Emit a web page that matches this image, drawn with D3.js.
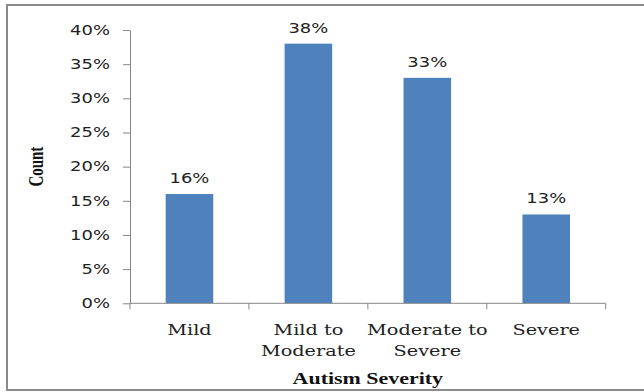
<!DOCTYPE html>
<html>
<head>
<meta charset="utf-8">
<script src="https://cdn.jsdelivr.net/npm/d3@7"></script>
<style>
  body { margin: 0; background: #fff; }
  svg { display: block; }
</style>
</head>
<body>
<svg id="chart" width="644" height="392"></svg>
<script>
// data
var categories = [["Mild"], ["Mild to", "Moderate"], ["Moderate to", "Severe"], ["Severe"]];
var shares = [0.16, 0.38, 0.33, 0.13];
var yTicks = [0, 0.05, 0.10, 0.15, 0.20, 0.25, 0.30, 0.35, 0.40];
var yTitle = "Count";
var xTitle = "Autism Severity";

var sx = 1.33; // the original is stretched sideways a bit
var sansFont = "'DejaVu Sans', Verdana, sans-serif";
var serifFont = "'DejaVu Serif', Cambria, serif";

var svg = d3.select("#chart");
// plot area (note: "top" is a reserved window global, so prefix these)
var plotLeft = 130, plotRight = 605.7, plotTop = 30, plotBottom = 303.3;

// outer frame
svg.append("rect")
  .attr("x", 7).attr("y", 5)
  .attr("width", 700).attr("height", 385)
  .attr("fill", "none")
  .attr("stroke", "#8a8a8a")
  .attr("stroke-width", 2);

var keys = categories.map(function(c) { return c.join(" "); });
var x = d3.scaleBand().domain(keys).range([plotLeft, plotRight]).paddingInner(0.6).paddingOuter(0.3);
var y = d3.scaleLinear().domain([0, 0.4]).range([plotBottom, plotTop]);

// bars
svg.append("g").selectAll("rect")
  .data(shares)
  .enter().append("rect")
  .attr("x", function(d, i) { return x(keys[i]); })
  .attr("y", function(d) { return y(d); })
  .attr("width", x.bandwidth())
  .attr("height", function(d) { return y(0) - y(d); })
  .attr("fill", "#4f81bd");

// value labels
svg.append("g").selectAll("text")
  .data(shares)
  .enter().append("text")
  .attr("transform", function(d, i) {
    return "translate(" + (x(keys[i]) + x.bandwidth() / 2) + "," + (y(d) - 11) + ") scale(" + sx + ",1)";
  })
  .attr("text-anchor", "middle")
  .style("font-family", sansFont)
  .style("font-size", "13.5px")
  .attr("fill", "#222")
  .text(function(d) { return Math.round(d * 100) + "%"; });

// y axis
var yAxis = svg.append("g")
  .attr("transform", "translate(" + plotLeft + ",0)")
  .call(d3.axisLeft(y).tickValues(yTicks).tickSize(7).tickSizeOuter(0).tickFormat(d3.format(".0%")));
yAxis.select(".domain").attr("stroke", "#868686");
yAxis.selectAll(".tick line").attr("stroke", "#868686");
yAxis.selectAll(".tick text")
  .attr("x", null)
  .attr("transform", "translate(-20,0) scale(" + sx + ",1)")
  .style("font-family", sansFont)
  .style("font-size", "13.5px")
  .attr("fill", "#222");

// x axis line with ticks between categories
var bounds = [plotLeft].concat(keys.map(function(k) { return x(k) + x.bandwidth() / 2 + x.step() / 2; }));
var xAxis = svg.append("g");
xAxis.append("line")
  .attr("x1", plotLeft).attr("x2", bounds[bounds.length - 1])
  .attr("y1", plotBottom).attr("y2", plotBottom)
  .attr("stroke", "#868686");
xAxis.selectAll("line.tk")
  .data(bounds)
  .enter().append("line")
  .attr("class", "tk")
  .attr("x1", function(d) { return d; }).attr("x2", function(d) { return d; })
  .attr("y1", plotBottom).attr("y2", plotBottom + 6)
  .attr("stroke", "#868686");

// category labels
var catG = svg.append("g").selectAll("text")
  .data(categories)
  .enter().append("text")
  .attr("transform", function(d, i) {
    return "translate(" + (x(keys[i]) + x.bandwidth() / 2) + "," + (plotBottom + 32) + ") scale(" + sx + ",1)";
  })
  .attr("text-anchor", "middle")
  .style("font-family", serifFont)
  .style("font-size", "14.5px")
  .attr("fill", "#222");
catG.selectAll("tspan")
  .data(function(d) { return d; })
  .enter().append("tspan")
  .attr("x", 0)
  .attr("dy", function(d, i) { return i ? 21 : 0; })
  .text(function(d) { return d; });

// axis titles
svg.append("text")
  .attr("transform", "translate(" + ((plotLeft + plotRight) / 2) + ",384) scale(" + sx + ",1)")
  .attr("text-anchor", "middle")
  .style("font-family", "'Liberation Serif', 'Times New Roman', serif")
  .style("font-weight", "bold")
  .style("font-size", "16.5px")
  .attr("fill", "#111")
  .text(xTitle);

svg.append("text")
  .attr("transform", "translate(43," + ((plotTop + plotBottom) / 2) + ") scale(" + sx + ",1) rotate(-90)")
  .attr("text-anchor", "middle")
  .style("font-family", "'Liberation Serif', 'Times New Roman', serif")
  .style("font-weight", "bold")
  .style("font-size", "15px")
  .attr("fill", "#111")
  .text(yTitle);
</script>
</body>
</html>
